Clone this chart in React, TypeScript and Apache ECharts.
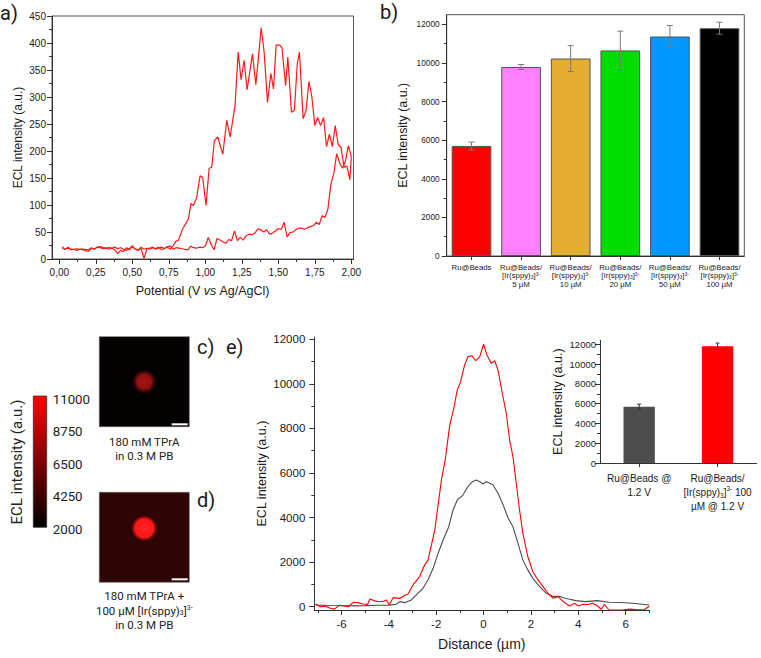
import React, { useEffect, useRef } from 'react';
import * as echarts from 'echarts';

// ---------------- Panel a: ECL intensity vs potential ----------------
const forwardPotential = [0.02,0.04,0.06,0.08,0.10,0.12,0.14,0.16,0.18,0.20,0.22,0.24,0.26,0.28,0.30,0.32,0.34,0.36,0.38,0.40,0.42,0.44,0.46,0.48,0.50,0.52,0.54,0.56,0.58,0.60,0.62,0.64,0.66,0.68,0.70,0.72,0.74,0.76,0.78,0.80,0.82,0.84,0.86,0.88,0.90,0.92,0.94,0.96,0.98,1.00,1.02,1.04,1.06,1.08,1.10,1.12,1.14,1.16,1.18,1.20,1.22,1.24,1.26,1.28,1.30,1.32,1.34,1.36,1.38,1.40,1.42,1.44,1.46,1.48,1.50,1.52,1.54,1.56,1.58,1.60,1.62,1.64,1.66,1.68,1.70,1.72,1.74,1.76,1.78,1.80,1.82,1.84,1.86,1.88,1.90,1.92,1.94,1.96,1.98,2.00];
const forwardIntensity = [23,18,20,17,18,16,18,19,15,14,20,18,22,21,19,20,18,20,17,10,16,14,21,17,25,18,16,20,1,19,20,22,18,20,22,19,23,24,18,21,20,19,18,17,24,21,20,22,21,24,40,27,17,38,35,32,29,36,34,52,34,40,35,43,46,45,48,56,54,50,54,46,48,52,56,55,68,41,49,50,54,57,57,55,58,60,62,68,64,80,77,93,139,158,195,178,168,182,210,189];
const reversePotential = [2.00,1.99,1.97,1.95,1.93,1.91,1.89,1.87,1.85,1.83,1.81,1.79,1.77,1.75,1.73,1.71,1.69,1.67,1.645,1.63,1.61,1.59,1.565,1.55,1.525,1.51,1.485,1.467,1.449,1.426,1.403,1.383,1.346,1.323,1.286,1.266,1.245,1.225,1.204,1.17,1.147,1.12,1.085,1.062,1.044,1.026,1.005,0.982,0.964,0.941,0.918,0.902,0.884,0.865,0.845,0.815,0.80,0.78,0.76,0.74,0.72,0.70,0.68,0.66,0.64,0.62,0.60,0.58,0.56,0.54,0.52,0.50,0.48,0.46,0.44,0.42,0.40,0.38,0.36,0.34,0.32,0.30,0.28,0.26,0.24,0.22,0.20,0.18,0.16,0.14,0.12,0.10,0.08,0.06,0.04,0.02];
const reverseIntensity = [189,147,172,170,206,212,247,208,231,208,262,247,262,247,300,329,275,260,383,362,275,272,374,321,391,396,396,315,344,290,383,428,323,380,313,368,332,383,285,226,257,194,226,219,170,168,99,151,154,114,99,103,74,65,56,34,33,25,18,22,20,17,22,19,21,18,20,18,22,17,19,22,20,16,18,21,19,22,20,21,20,21,23,22,18,21,17,18,17,18,19,18,18,22,18,20];
const potentialTicks = [0, 0.25, 0.5, 0.75, 1, 1.25, 1.5, 1.75, 2];
const potentialMinorTicks = [0.125, 0.375, 0.625, 0.875, 1.125, 1.375, 1.625, 1.875];
const intensityTicksA = [0, 50, 100, 150, 200, 250, 300, 350, 400, 450];
const intensityMinorTicksA = [25, 75, 125, 175, 225, 275, 325, 375, 425];

// ---------------- Panel b: bead bar chart ----------------
const beadCategories = [
  'Ru@Beads',
  'Ru@Beads/\n[Ir(sppy){s|3}]{p|3-}\n5 µM',
  'Ru@Beads/\n[Ir(sppy){s|3}]{p|3-}\n10 µM',
  'Ru@Beads/\n[Ir(sppy){s|3}]{p|3-}\n20 µM',
  'Ru@Beads/\n[Ir(sppy){s|3}]{p|3-}\n50 µM',
  'Ru@Beads/\n[Ir(sppy){s|3}]{p|3-}\n100 µM',
];
const beadMeans = [5700, 9790, 10230, 10650, 11370, 11800];
const beadErrors = [200, 130, 670, 1000, 570, 310];
const beadColors = ['#ff0000', '#ff80ff', '#e4ae33', '#00dd00', '#0099ff', '#000000'];
const barTicksB = [0, 2000, 4000, 6000, 8000, 10000, 12000];
const barMinorTicksB = [1000, 3000, 5000, 7000, 9000, 11000];

// ---------------- Panels c/d: colour scale ----------------
const colorbarTicks = [2000, 4250, 6500, 8750, 11000];

// ---------------- Panel e: line profiles + inset ----------------
const redDistance = [-7.1,-6.9,-6.7,-6.5,-6.3,-6.1,-5.9,-5.7,-5.5,-5.3,-5.1,-4.9,-4.8,-4.6,-4.4,-4.2,-4.1,-3.99,-3.82,-3.54,-3.33,-3.2,-2.98,-2.7,-2.49,-2.35,-2.06,-1.78,-1.61,-1.43,-1.26,-1.11,-0.97,-0.8,-0.66,-0.49,-0.33,-0.16,0,0.14,0.33,0.47,0.61,0.79,0.96,1.1,1.24,1.38,1.52,1.66,1.87,2.08,2.3,2.51,2.72,2.94,3.15,3.36,3.63,3.85,4.0,4.2,4.4,4.6,4.8,4.97,5.1,5.3,5.6,5.9,6.2,6.5,6.8,7.0];
const redIntensity = [120,0,20,-60,-110,60,30,0,200,180,120,100,340,260,220,250,300,76,404,370,510,560,975,1350,1870,2090,3440,5690,6660,8150,8900,9730,10100,10850,11220,11260,11040,11220,11780,11300,10920,11040,10620,9580,8680,7480,6730,5540,4340,3290,2240,1570,1200,900,600,377,450,225,30,150,30,110,100,150,40,-117,90,-150,-150,-140,-110,-140,-130,20];
const grayDistance = [-7.1,-6.5,-6.0,-5.5,-5.0,-4.5,-4.0,-3.7,-3.54,-3.33,-3.05,-2.84,-2.56,-2.35,-2.13,-1.92,-1.71,-1.47,-1.29,-1.11,-0.87,-0.66,-0.47,-0.3,-0.16,-0.03,0.12,0.26,0.4,0.61,0.83,1.04,1.24,1.45,1.66,1.87,2.08,2.37,2.65,2.94,3.2,3.36,3.64,3.9,4.3,4.8,5.3,5.8,6.3,7.0];
const grayIntensity = [75,50,40,35,45,60,70,110,225,180,300,525,825,1200,1720,2400,2990,3590,4340,4790,5010,5390,5610,5690,5610,5510,5610,5540,5460,5090,4560,3970,3590,2850,2100,1650,1270,900,600,460,470,400,330,270,225,270,200,190,150,75];
const distanceTicks = [-6, -4, -2, 0, 2, 4, 6];
const distanceMinorTicks = [-7, -5, -3, -1, 1, 3, 5, 7];
const profileTicks = [0, 2000, 4000, 6000, 8000, 10000, 12000];
const profileMinorTicks = [1000, 3000, 5000, 7000, 9000, 11000];
const insetCategories = ['Ru@Beads @\n1.2 V', 'Ru@Beads/\n[Ir(sppy){s|3}]{p|3-} 100\nµM @ 1.2 V'];
const insetMeans = [5700, 11800];
const insetErrors = [250, 330];
const insetColors = ['#4d4d4d', '#ff0000'];

const FONT = '"Liberation Sans", Arial, sans-serif';
const ROBOTO = 'Roboto, "Liberation Sans", sans-serif';
const AXIS = '#333333';
const TXT = '#1a1a1a';

const zip = (xs: number[], ys: number[]) => xs.map((x, i) => [x, ys[i]]);

function majorValueAxis(o: any) {
  return {
    type: 'value',
    gridIndex: o.gridIndex,
    min: o.min,
    max: o.max,
    position: o.position,
    axisLine: { show: true, onZero: false, lineStyle: { color: AXIS, width: 1 } },
    axisTick: { show: true, customValues: o.ticks, length: o.tickLen ?? 5, lineStyle: { color: AXIS } },
    axisLabel: {
      show: o.showLabel !== false,
      customValues: o.ticks,
      fontSize: o.fontSize,
      margin: o.margin,
      color: TXT,
      fontFamily: o.fontFamily || FONT,
      formatter: o.formatter || ((v: number) => String(v)),
    },
    splitLine: { show: false },
    name: o.name,
    nameLocation: 'middle',
    nameGap: o.nameGap,
    nameTextStyle: { fontSize: o.nameSize, fontFamily: FONT, color: TXT, rich: o.rich },
  };
}

function minorValueAxis(gridIndex: number, min: number, max: number, ticks: number[], position: string) {
  return {
    type: 'value', gridIndex, min, max, position,
    axisLine: { show: false, onZero: false },
    axisLabel: { show: false },
    splitLine: { show: false },
    axisTick: { show: true, customValues: ticks, length: 3, lineStyle: { color: AXIS } },
  };
}

function errorBars(xAxisIndex: number, yAxisIndex: number, means: number[], errs: number[], color: string, cap: number) {
  return {
    type: 'custom',
    xAxisIndex, yAxisIndex, z: 10,
    data: means.map((m, i) => [i, m, errs[i]]),
    renderItem: (_p: any, api: any) => {
      const i = api.value(0), m = api.value(1), e = api.value(2);
      const hi = api.coord([i, m + e]);
      const lo = api.coord([i, m - e]);
      const style = { stroke: color, lineWidth: 1 };
      return {
        type: 'group',
        children: [
          { type: 'line', shape: { x1: hi[0], y1: hi[1], x2: lo[0], y2: lo[1] }, style },
          { type: 'line', shape: { x1: hi[0] - cap, y1: hi[1], x2: hi[0] + cap, y2: hi[1] }, style },
          { type: 'line', shape: { x1: lo[0] - cap, y1: lo[1], x2: lo[0] + cap, y2: lo[1] }, style },
        ],
      };
    },
  };
}

const subSup = (size: number, lh: number) => ({
  s: { fontSize: size, verticalAlign: 'bottom', lineHeight: lh, fontFamily: FONT, color: TXT },
  p: { fontSize: size, verticalAlign: 'top', lineHeight: lh, fontFamily: FONT, color: TXT },
});

function panelLabel(text: string, x: number, y: number) {
  return {
    type: 'text', x, y, z: 100,
    style: { text, fontSize: 20, fontFamily: ROBOTO, fill: TXT, align: 'left', verticalAlign: 'top', textAlign: 'left', textVerticalAlign: 'top' },
  };
}

function centerText(text: string, x: number, y: number, size: number, extra: any = {}) {
  return {
    type: 'text', x, y, z: 100,
    style: { text, fontSize: size, fontFamily: ROBOTO, fill: '#222', align: 'center', verticalAlign: 'middle', textAlign: 'center', textVerticalAlign: 'middle', ...extra },
  };
}

export default function App() {
  const ref = useRef<HTMLDivElement>(null);
  useEffect(() => {
    if (!ref.current) return;
    const chart = echarts.init(ref.current, undefined, { renderer: 'svg' });
    const option: any = {
      animation: false,
      backgroundColor: '#ffffff',
      grid: [
        { left: 52, top: 16, width: 301.5, height: 243, show: true, borderColor: '#555', borderWidth: 1, backgroundColor: 'transparent' },
        { left: 446.7, top: 14.7, width: 297.6, height: 241.3, show: true, borderColor: '#555', borderWidth: 1, backgroundColor: 'transparent' },
        { left: 314.3, top: 337.1, width: 335, height: 272.9 },
        { left: 600, top: 340.4, width: 156.7, height: 122.6 },
        { left: 33.3, top: 399, width: 13.4, height: 130.3 },
      ],
      xAxis: [
        majorValueAxis({
          gridIndex: 0, min: -0.05, max: 2.015, position: 'bottom', ticks: potentialTicks, fontSize: 10, margin: 8,
          formatter: (v: number) => v.toFixed(2).replace('.', ','),
          name: 'Potential (V {i|vs} Ag/AgCl)', nameGap: 25, nameSize: 12.5,
          rich: { i: { fontStyle: 'italic', fontSize: 12.5, fontFamily: FONT, color: TXT } },
        }),
        minorValueAxis(0, -0.05, 2.015, potentialMinorTicks, 'bottom'),
        {
          type: 'category', gridIndex: 1, data: beadCategories, position: 'bottom',
          axisLine: { show: true, onZero: false, lineStyle: { color: AXIS } },
          axisTick: { show: true, alignWithLabel: true, length: 4, lineStyle: { color: AXIS } },
          axisLabel: { interval: 0, fontSize: 7.8, lineHeight: 8.4, margin: 7, color: TXT, fontFamily: FONT, rich: subSup(5, 8.4) },
        },
        majorValueAxis({
          gridIndex: 2, min: -7.15, max: 7.0, position: 'bottom', ticks: distanceTicks, fontSize: 11.5, margin: 8,
          name: 'Distance (µm)', nameGap: 27, nameSize: 14,
        }),
        minorValueAxis(2, -7.15, 7.0, distanceMinorTicks, 'bottom'),
        {
          type: 'category', gridIndex: 3, data: insetCategories, position: 'bottom',
          axisLine: { show: true, onZero: false, lineStyle: { color: AXIS } },
          axisTick: { show: true, alignWithLabel: true, length: 4, lineStyle: { color: AXIS } },
          axisLabel: { interval: 0, fontSize: 10, lineHeight: 14, margin: 8, color: TXT, fontFamily: FONT, rich: subSup(6.5, 14) },
        },
        { type: 'value', gridIndex: 4, min: 0, max: 1, show: false },
      ],
      yAxis: [
        majorValueAxis({
          gridIndex: 0, min: 0, max: 450, position: 'left', ticks: intensityTicksA, fontSize: 10, margin: 6,
          name: 'ECL intensity (a.u.)', nameGap: 28, nameSize: 12,
        }),
        minorValueAxis(0, 0, 450, intensityMinorTicksA, 'left'),
        majorValueAxis({
          gridIndex: 1, min: 0, max: 12500, position: 'left', ticks: barTicksB, fontSize: 8.3, margin: 7,
          name: 'ECL intensity (a.u.)', nameGap: 38, nameSize: 12.4,
        }),
        minorValueAxis(1, 0, 12500, barMinorTicksB, 'left'),
        majorValueAxis({
          gridIndex: 2, min: -150, max: 12100, position: 'left', ticks: profileTicks, fontSize: 11.5, margin: 9,
          name: 'ECL intensity (a.u.)', nameGap: 46, nameSize: 12.5,
        }),
        minorValueAxis(2, -150, 12100, profileMinorTicks, 'left'),
        majorValueAxis({
          gridIndex: 3, min: 0, max: 12400, position: 'left', ticks: profileTicks, fontSize: 9.5, margin: 4,
          name: 'ECL intensity (a.u.)', nameGap: 36, nameSize: 12.6,
        }),
        minorValueAxis(3, 0, 12400, profileMinorTicks, 'left'),
        {
          type: 'value', gridIndex: 4, min: 2000, max: 11000, position: 'right',
          axisLine: { show: false }, axisTick: { show: false }, splitLine: { show: false },
          axisLabel: { customValues: colorbarTicks, fontSize: 13.3, margin: 6, color: '#222', fontFamily: ROBOTO, formatter: (v: number) => String(v) },
        },
      ],
      series: [
        {
          type: 'line', xAxisIndex: 0, yAxisIndex: 0, data: zip(forwardPotential, forwardIntensity),
          showSymbol: false, lineStyle: { color: '#ff1a1a', width: 1.2 }, z: 3,
        },
        {
          type: 'line', xAxisIndex: 0, yAxisIndex: 0, data: zip(reversePotential, reverseIntensity),
          showSymbol: false, lineStyle: { color: '#ff1a1a', width: 1.2 }, z: 3,
        },
        {
          type: 'bar', xAxisIndex: 2, yAxisIndex: 2, barWidth: '80%',
          data: beadMeans.map((v, i) => ({ value: v, itemStyle: { color: beadColors[i] } })),
          itemStyle: { borderColor: '#555', borderWidth: 1 },
        },
        errorBars(2, 2, beadMeans, beadErrors, '#7a7a7a', 3),
        {
          type: 'line', xAxisIndex: 3, yAxisIndex: 4, data: zip(grayDistance, grayIntensity),
          showSymbol: false, lineStyle: { color: '#4a4a4a', width: 1.1 }, z: 3,
        },
        {
          type: 'line', xAxisIndex: 3, yAxisIndex: 4, data: zip(redDistance, redIntensity),
          showSymbol: false, lineStyle: { color: '#ff0000', width: 1.1 }, z: 4,
        },
        {
          type: 'bar', xAxisIndex: 5, yAxisIndex: 6, barWidth: '40%',
          data: insetMeans.map((v, i) => ({ value: v, itemStyle: { color: insetColors[i] } })),
        },
        errorBars(5, 6, insetMeans, insetErrors, '#333', 2),
      ],
      graphic: [
        panelLabel('a)', 0, 3),
        panelLabel('b)', 380, 2),
        panelLabel('c)', 197, 337),
        panelLabel('d)', 197, 490),
        panelLabel('e)', 226, 337),
        // colour bar
        {
          type: 'rect', z: 50,
          shape: { x: 33.3, y: 396, width: 13.4, height: 131.3 },
          style: {
            fill: new echarts.graphic.LinearGradient(0, 0, 0, 1, [
              { offset: 0, color: '#ff0000' },
              { offset: 1, color: '#000000' },
            ]),
            stroke: '#333', lineWidth: 0.8,
          },
        },
        {
          type: 'text', x: 16.5, y: 462, rotation: Math.PI / 2, z: 100,
          style: { text: 'ECL intensity (a.u.)', fontSize: 15, fontFamily: ROBOTO, fill: '#222', align: 'center', verticalAlign: 'middle', textAlign: 'center', textVerticalAlign: 'middle' },
        },
        // image c
        { type: 'rect', z: 50, shape: { x: 99.3, y: 336.7, width: 90, height: 90 }, style: { fill: '#060101', stroke: '#666', lineWidth: 0.6 } },
        {
          type: 'circle', z: 51, shape: { cx: 144.3, cy: 381.7, r: 12 },
          style: {
            fill: new echarts.graphic.RadialGradient(0.5, 0.5, 0.5, [
              { offset: 0, color: '#a51414' },
              { offset: 0.6, color: '#8e1010' },
              { offset: 1, color: 'rgba(110,8,8,0)' },
            ]),
          },
        },
        { type: 'rect', z: 52, shape: { x: 171.7, y: 423.3, width: 16, height: 2 }, style: { fill: '#ffffff' } },
        // image d
        { type: 'rect', z: 50, shape: { x: 99.3, y: 492.3, width: 90, height: 90 }, style: { fill: '#2e0505', stroke: '#666', lineWidth: 0.6 } },
        {
          type: 'circle', z: 51, shape: { cx: 144.3, cy: 528.3, r: 13 },
          style: {
            fill: new echarts.graphic.RadialGradient(0.5, 0.5, 0.5, [
              { offset: 0, color: '#ff2222' },
              { offset: 0.72, color: '#ff1616' },
              { offset: 1, color: 'rgba(200,10,10,0)' },
            ]),
          },
        },
        { type: 'rect', z: 52, shape: { x: 171.7, y: 578.3, width: 16, height: 2 }, style: { fill: '#ffffff' } },
        // captions
        centerText('180 mM TPrA', 144.3, 442.3, 11.5),
        centerText('in 0.3 M PB', 144.3, 455.5, 11.5),
        centerText('180 mM TPrA +', 144.3, 596, 11.5),
        centerText('100 µM [Ir(sppy){s|3}]{p|3-}', 144.3, 610.7, 11.5, {
          rich: {
            s: { fontSize: 7, verticalAlign: 'bottom', fontFamily: ROBOTO, fill: '#222' },
            p: { fontSize: 7, verticalAlign: 'top', fontFamily: ROBOTO, fill: '#222' },
          },
        }),
        centerText('in 0.3 M PB', 144.3, 625.3, 11.5),
      ],
    };
    chart.setOption(option);
    return () => chart.dispose();
  }, []);
  return <div ref={ref} style={{ position: 'absolute', left: 0, top: 0, width: 761, height: 658, background: '#fff' }} />;
}
